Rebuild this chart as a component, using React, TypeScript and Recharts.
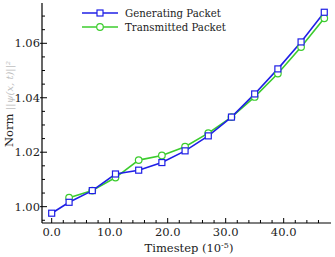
import { LineChart, Line, XAxis, YAxis, Legend } from "recharts";

const steps = [0, 3, 7, 11, 15, 19, 23, 27, 31, 35, 39, 43, 47];
const generating = [0.9976, 1.0016, 1.0059, 1.012, 1.0134, 1.0162, 1.0205, 1.026, 1.0329, 1.0414, 1.0506, 1.0605, 1.0714];
const transmitted = [null, 1.0033, 1.0059, 1.0107, 1.0171, 1.0188, 1.022, 1.027, 1.0329, 1.0403, 1.0489, 1.0586, 1.0692];

const xTicks = [0, 2, 4, 6, 8, 10, 12, 14, 16, 18, 20, 22, 24, 26, 28, 30, 32, 34, 36, 38, 40, 42, 44, 46];
const yTicks = [0.995, 1.0, 1.005, 1.01, 1.015, 1.02, 1.025, 1.03, 1.035, 1.04, 1.045, 1.05, 1.055, 1.06, 1.065, 1.07];

const BLUE = "#1f1fe6";
const GREEN = "#3ccc2e";
const FONT = "'DejaVu Serif', serif";
const txt = { fontFamily: FONT, fontSize: 11.5 };
const legendTxt = { fontFamily: FONT, fontSize: 10.2 };

const data = steps.map((s, i) => ({ step: s, gen: generating[i], trans: transmitted[i] }));

const XTick = ({ x, y, payload }: any) => {
  const v = payload.value;
  const major = Math.round(v) % 10 === 0;
  return (
    <g>
      <line x1={x} x2={x} y1={y} y2={y - (major ? 5 : 3)} stroke="#000" />
      {major && (
        <text x={x} y={y + 13} textAnchor="middle" style={txt} fill="#222">
          {v.toFixed(1)}
        </text>
      )}
    </g>
  );
};

const YTick = ({ x, y, payload }: any) => {
  const v = payload.value;
  const major = Math.round(v * 1000) % 20 === 0;
  return (
    <g>
      <line x1={major ? x - 2 : x} x2={x + (major ? 5 : 3)} y1={y} y2={y} stroke="#000" />
      {major && (
        <text x={x - 2} y={y} dy="0.35em" textAnchor="end" style={txt} fill="#222">
          {v.toFixed(2)}
        </text>
      )}
    </g>
  );
};

const SquareDot = ({ cx, cy }: any) => {
  if (cx == null || cy == null) return null;
  return <rect x={cx - 3} y={cy - 3} width={6} height={6} fill="#fff" stroke={BLUE} strokeWidth={1.2} />;
};

const LegendBox = () => (
  <svg width={170} height={36}>
    <line x1={2} x2={38} y1={9} y2={9} stroke={BLUE} strokeWidth={1.6} />
    <rect x={17} y={6} width={6} height={6} fill="#fff" stroke={BLUE} strokeWidth={1.2} />
    <text x={45} y={9} dy="0.35em" style={legendTxt} fill="#222">Generating Packet</text>
    <line x1={2} x2={38} y1={23} y2={23} stroke={GREEN} strokeWidth={1.6} />
    <circle cx={20} cy={23} r={3.3} fill="#fff" stroke={GREEN} strokeWidth={1.2} />
    <text x={45} y={23} dy="0.35em" style={legendTxt} fill="#222">Transmitted Packet</text>
  </svg>
);

export default function App() {
  return (
    <div style={{ position: "absolute", left: 0, top: 0, width: 335, height: 257, background: "#fff", fontFamily: FONT }}>
      <LineChart width={335} height={257} data={data} margin={{ top: 3, right: 4, left: 0, bottom: 0 }}>
        <XAxis
          dataKey="step"
          type="number"
          domain={[-1.67, 48.16]}
          allowDataOverflow
          ticks={xTicks}
          interval={0}
          tick={<XTick />}
          tickSize={0}
          tickMargin={0}
          axisLine={{ stroke: "#000", strokeWidth: 1.2 }}
          height={34}
          label={{
            content: () => (
              <text x={189} y={252} textAnchor="middle" style={txt} fill="#222">
                Timestep (10
                <tspan dy={-4} fontSize={8}>-5</tspan>
                <tspan dy={4}>)</tspan>
              </text>
            ),
          }}
        />
        <XAxis xAxisId="top" orientation="top" height={0} tick={false} tickLine={false} axisLine={{ stroke: "#000", strokeWidth: 1.2 }} />
        <YAxis
          type="number"
          domain={[0.994, 1.0748]}
          allowDataOverflow
          ticks={yTicks}
          interval={0}
          tick={<YTick />}
          tickSize={0}
          tickMargin={0}
          width={42}
          axisLine={{ stroke: "#000", strokeWidth: 1.2 }}
          label={{
            content: () => (
              <text transform="translate(13,104) rotate(-90)" textAnchor="middle" style={txt} fill="#222">
                Norm{" "}
                <tspan fill="#bdbdbd" fontStyle="italic" fontSize={10}>||ψ(x, t)||²</tspan>
              </text>
            ),
          }}
        />
        <YAxis yAxisId="right" orientation="right" width={0} tick={false} tickLine={false} axisLine={{ stroke: "#000", strokeWidth: 1.2 }} />
        <Legend
          layout="vertical"
          align="center"
          verticalAlign="middle"
          content={() => <LegendBox />}
          wrapperStyle={{ top: 4, left: 80, width: 170, height: 36 }}
        />
        <Line dataKey="trans" stroke={GREEN} strokeWidth={1.6} isAnimationActive={false} dot={{ r: 3.3, fill: "#fff", stroke: GREEN, strokeWidth: 1.2 }} />
        <Line dataKey="gen" stroke={BLUE} strokeWidth={1.6} isAnimationActive={false} dot={<SquareDot />} />
      </LineChart>
    </div>
  );
}
